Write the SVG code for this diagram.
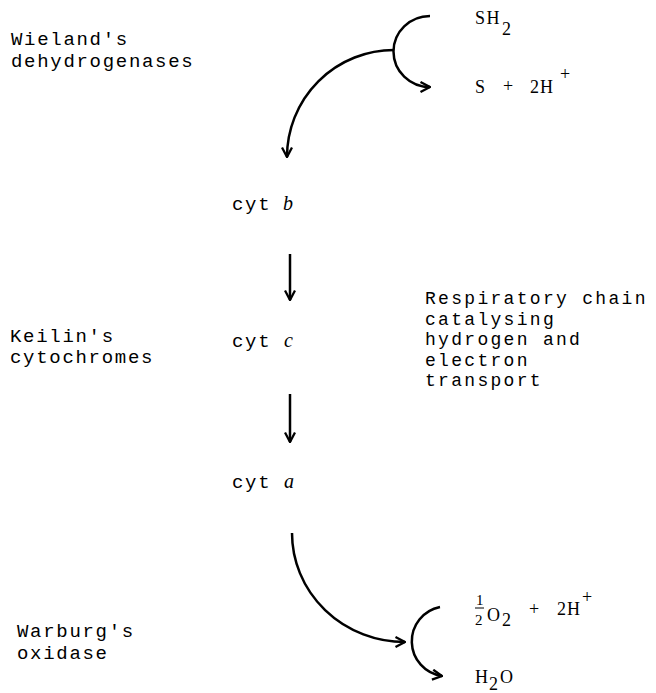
<svg xmlns="http://www.w3.org/2000/svg" width="656" height="693" viewBox="0 0 656 693">
<defs>
<style>
.lbl{font-family:"Liberation Mono","Courier New",monospace;font-size:19px;letter-spacing:1.7px;fill:#000}
.lbs{font-family:"Liberation Mono","Courier New",monospace;font-size:18px;letter-spacing:2.3px;fill:#000}
.it{font-family:"Liberation Serif","Times New Roman",serif;font-style:italic;font-size:20px;fill:#000}
.chem{font-family:"Liberation Serif","Times New Roman",serif;font-size:18px;fill:#000}
.sm{font-family:"Liberation Serif","Times New Roman",serif;font-size:15px;fill:#000}
.ln{fill:none;stroke:#000;stroke-width:2.5}
</style>
<marker id="ah" viewBox="0 0 12 12" refX="11" refY="6" markerWidth="12" markerHeight="12" markerUnits="userSpaceOnUse" orient="auto">
<path d="M1.5,1 L11,6 L1.5,11" fill="none" stroke="#000" stroke-width="2.3" stroke-linejoin="miter"/>
</marker>
</defs>
<rect width="656" height="693" fill="#fff"/>

<g id="label-wieland">
<text class="lbl" x="11" y="45">Wieland's</text>
<text class="lbl" x="11" y="67">dehydrogenases</text>
</g>
<g id="label-keilin">
<text class="lbl" x="10" y="342">Keilin's</text>
<text class="lbl" x="10" y="363">cytochromes</text>
</g>
<g id="label-warburg">
<text class="lbl" x="17" y="637">Warburg's</text>
<text class="lbl" x="17" y="659">oxidase</text>
</g>
<g id="label-chain">
<text class="lbs" x="425" y="304">Respiratory chain</text>
<text class="lbs" x="425" y="324.5">catalysing</text>
<text class="lbs" x="425" y="345">hydrogen and</text>
<text class="lbs" x="425" y="365.5">electron</text>
<text class="lbs" x="425" y="386">transport</text>
</g>

<g id="cyt-b">
<text class="lbl" x="232" y="210">cyt</text>
<text class="it" x="283" y="210">b</text>
</g>
<g id="cyt-c">
<text class="lbl" x="232" y="347">cyt</text>
<text class="it" x="284" y="347">c</text>
</g>
<g id="cyt-a">
<text class="lbl" x="232" y="488">cyt</text>
<text class="it" x="284" y="488">a</text>
</g>

<g id="sh2">
<text class="chem" x="475" y="24" letter-spacing="1.5">SH</text>
<text class="chem" x="502" y="35">2</text>
</g>
<g id="s-2h">
<text class="chem" x="475" y="93">S</text>
<text class="chem" x="503" y="92">+</text>
<text class="chem" x="530" y="93" letter-spacing="1">2H</text>
<text class="chem" x="560" y="80">+</text>
</g>
<g id="o2-2h">
<text class="sm" x="476" y="605">1</text>
<line x1="475" y1="608" x2="484" y2="608" stroke="#000" stroke-width="1"/>
<text class="sm" x="475" y="625">2</text>
<text class="chem" x="487" y="621">O</text>
<text class="chem" x="502" y="626">2</text>
<text class="chem" x="529" y="615">+</text>
<text class="chem" x="557" y="615" letter-spacing="1">2H</text>
<text class="chem" x="582" y="603">+</text>
</g>
<g id="h2o">
<text class="chem" x="475" y="683">H</text>
<text class="chem" x="489" y="690">2</text>
<text class="chem" x="500" y="683">O</text>
</g>

<g id="connectors">
<path class="ln" d="M430,16 A36,35 0 0 0 430,87" marker-end="url(#ah)"/>
<path class="ln" d="M394,50 A107,107 0 0 0 287,157" marker-end="url(#ah)"/>
<line class="ln" x1="290" y1="254" x2="290" y2="300" marker-end="url(#ah)"/>
<line class="ln" x1="290" y1="394" x2="290" y2="442" marker-end="url(#ah)"/>
<path class="ln" d="M292,533 A113,109 0 0 0 405,642" marker-end="url(#ah)"/>
<path class="ln" d="M440,607 A35,35 0 0 0 442,676" marker-end="url(#ah)"/>
</g>
</svg>
